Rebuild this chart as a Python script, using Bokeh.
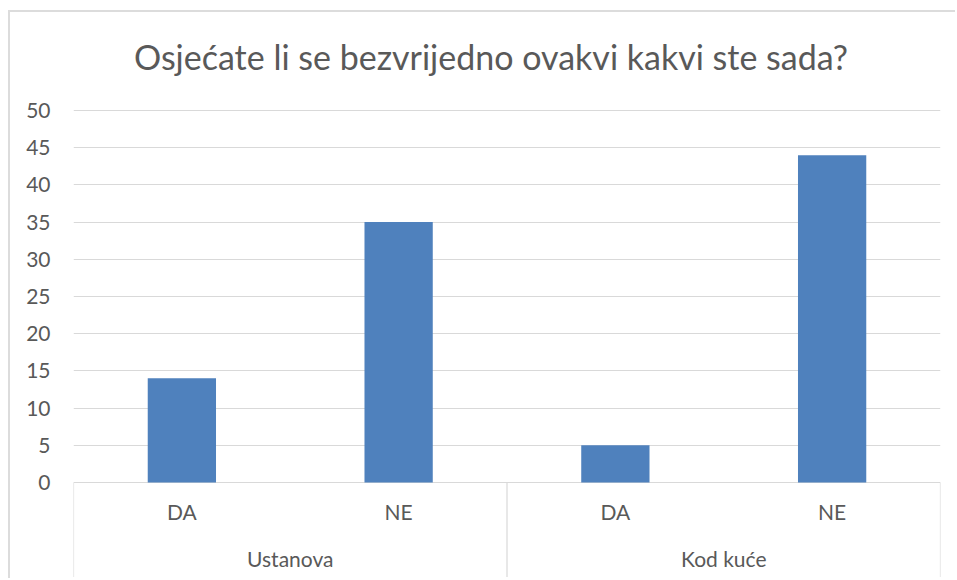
from bokeh.plotting import figure
from bokeh.models import FactorRange, Range1d, FixedTicker, ColumnDataSource
from bokeh.core.properties import value
from bokeh.embed import file_html
from bokeh.resources import INLINE

title_text = "Osjećate li se bezvrijedno ovakvi kakvi ste sada?"
groups = ["Ustanova", "Kod kuće"]
answers = ["DA", "NE"]
values_ustanova = [14, 35]
values_kod_kuce = [5, 44]
y_ticks = [0, 5, 10, 15, 20, 25, 30, 35, 40, 45, 50]

FONT = "Lato"
TXT = "#595959"
GRID = "#d9d9d9"
BAR = "#4F81BD"

factors = [(g, a) for g in groups for a in answers]
vals = values_ustanova + values_kod_kuce

Y_TOP = 63.17
Y_BOT = -13.17

x_range = FactorRange(factors=factors, factor_padding=0, group_padding=0, range_padding=0)
y_range = Range1d(Y_BOT, Y_TOP)

p = figure(width=947, height=568, x_range=x_range, y_range=y_range,
           output_backend="svg", toolbar_location=None, x_axis_location=None,
           min_border_left=63, min_border_right=17, min_border_top=0, min_border_bottom=0)
p.styles = {"margin-left": "8px", "margin-top": "10px",
            "border-left": "2px solid #dcdcdc", "border-top": "2px solid #dcdcdc"}
p.outline_line_color = None
p.xgrid.grid_line_color = None
p.ygrid.grid_line_color = GRID
p.ygrid.grid_line_width = 1.2
p.yaxis.ticker = FixedTicker(ticks=y_ticks)
p.yaxis.axis_line_color = None
p.yaxis.major_tick_line_color = None
p.yaxis.minor_tick_line_color = None
p.yaxis.major_tick_out = 0
p.yaxis.major_label_standoff = 23
p.yaxis.major_label_text_font = FONT
p.yaxis.major_label_text_font_size = "21px"
p.yaxis.major_label_text_color = TXT

src = ColumnDataSource(dict(x=factors, top=vals))
p.vbar(x="x", top="top", width=0.315, bottom=0, source=src, fill_color=BAR, line_color=None)

# category axis: sub labels, group labels, separators
n_sub = len(answers)
bounds = [i * n_sub for i in range(len(groups) + 1)]
p.segment(x0=bounds, x1=bounds, y0=[0] * len(bounds), y1=[-12.7] * len(bounds),
          line_color=GRID, line_width=1.2)
p.text(x=factors, y=[-3.95] * len(factors), text=[a for g, a in factors],
       text_font=value(FONT), text_font_size="21px", text_color=TXT,
       text_align="center", text_baseline="middle")
p.text(x=groups, y=[-10.25] * len(groups), text=groups,
       text_font=value(FONT), text_font_size="21px", text_color=TXT,
       text_align="center", text_baseline="middle")

# title
p.text(x=[len(factors) / 2], y=[57.3], text=[title_text], x_offset=-16,
       text_font=value(FONT), text_font_size="34px", text_color=TXT,
       text_align="center", text_baseline="middle")

open("out.html", "w").write(file_html(p, INLINE))
